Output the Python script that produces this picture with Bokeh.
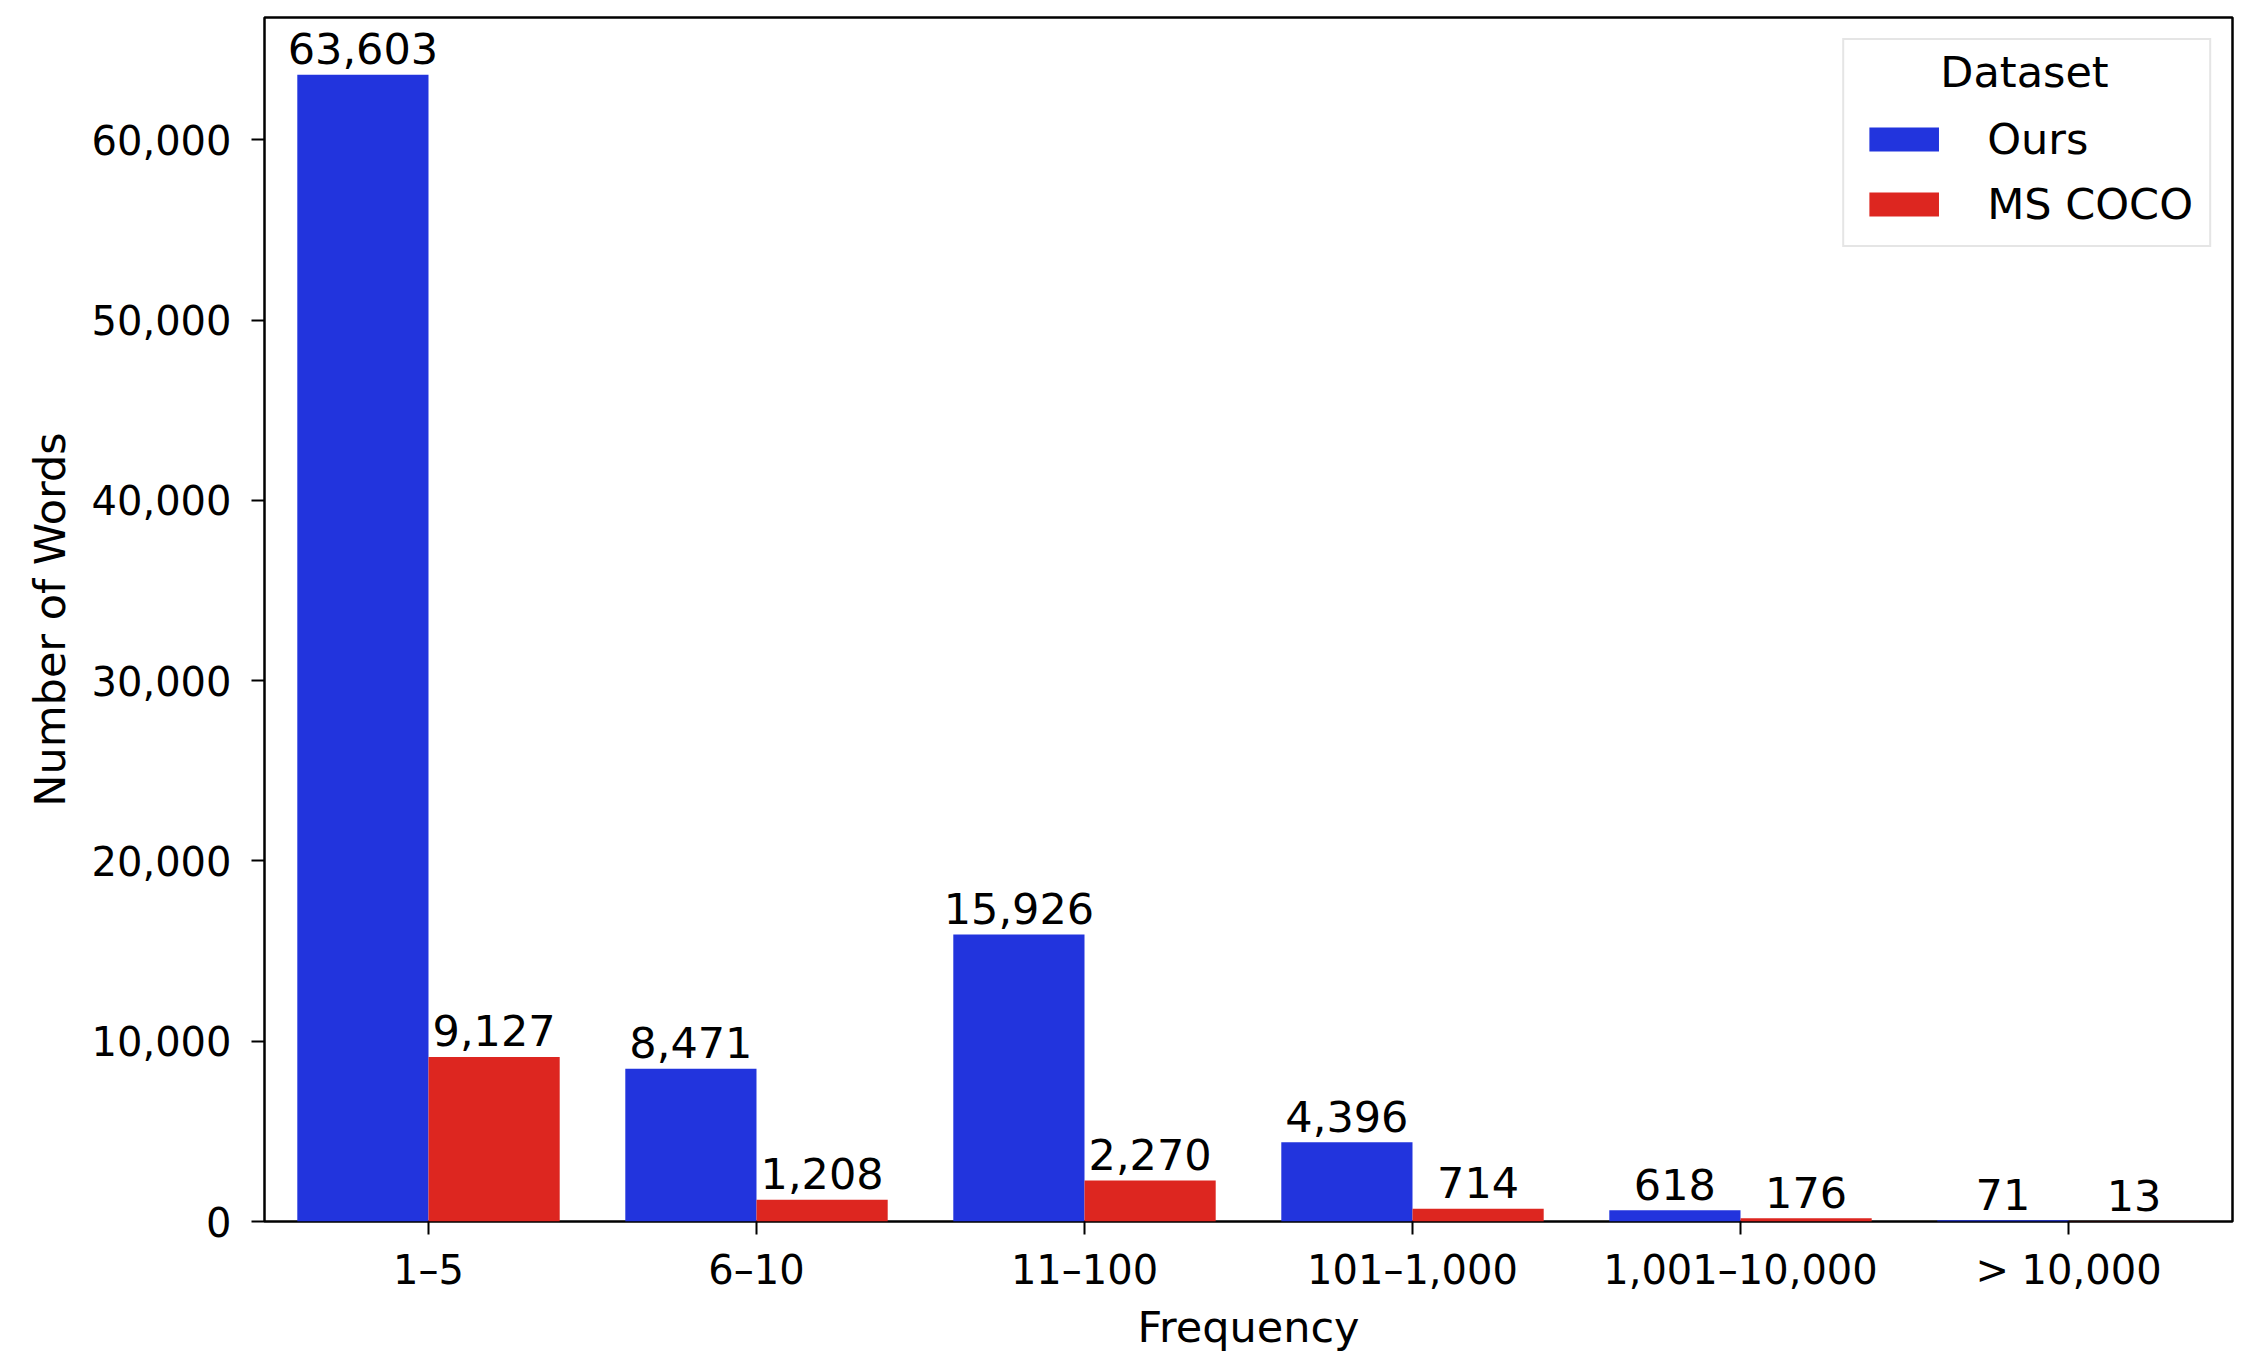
from bokeh.plotting import figure
from bokeh.models import (ColumnDataSource, FactorRange, Range1d, NumeralTickFormatter,
                          FixedTicker, Legend, LegendItem, Label)
from bokeh.transform import dodge
from bokeh.embed import file_html
from bokeh.resources import INLINE
from bokeh.core.properties import value

# ---- data ----
categories = ["1–5", "6–10", "11–100", "101–1,000", "1,001–10,000", "> 10,000"]
ours = [63603, 8471, 15926, 4396, 618, 71]
mscoco = [9127, 1208, 2270, 714, 176, 13]
y_ticks = [0, 10000, 20000, 30000, 40000, 50000, 60000]
series_names = ["Ours", "MS COCO"]
legend_title = "Dataset"

BLUE = "#2234dd"
RED = "#dd2620"
FONT = "DejaVu Sans"
FS = "43px"
TICK_FS = "40px"

src = ColumnDataSource(dict(
    cat=categories,
    ours=ours,
    coco=mscoco,
    ours_lbl=[f"{v:,}" for v in ours],
    coco_lbl=[f"{v:,}" for v in mscoco],
))

p = figure(
    x_range=FactorRange(*categories),
    y_range=Range1d(0, max(ours) * 1.05),
    width=2255, height=1370,
    output_backend="svg", toolbar_location=None,
    min_border_left=264, min_border_right=23,
    min_border_top=17, min_border_bottom=149,
    background_fill_color="white", border_fill_color="white",
)

r1 = p.vbar(x=dodge("cat", -0.2, range=p.x_range), top="ours", width=0.4,
            source=src, fill_color=BLUE, line_color=None)
r2 = p.vbar(x=dodge("cat", 0.2, range=p.x_range), top="coco", width=0.4,
            source=src, fill_color=RED, line_color=None)

p.text(x=dodge("cat", -0.2, range=p.x_range), y="ours", text="ours_lbl", source=src,
       text_align="center", text_baseline="alphabetic", y_offset=-26,
       text_font=value(FONT), text_font_size=FS, text_color="black")
p.text(x=dodge("cat", 0.2, range=p.x_range), y="coco", text="coco_lbl", source=src,
       text_align="center", text_baseline="alphabetic", y_offset=-26,
       text_font=value(FONT), text_font_size=FS, text_color="black")

# grids / outline
p.xgrid.grid_line_color = None
p.ygrid.grid_line_color = None
p.outline_line_color = "black"
p.outline_line_width = 2.5
p.outline_line_alpha = 1.0

# axes
p.yaxis.ticker = FixedTicker(ticks=y_ticks)
p.yaxis.formatter = NumeralTickFormatter(format="0,0")
p.xaxis.axis_label = "Frequency"
p.yaxis.axis_label = "Number of Words"
for ax in (p.xaxis, p.yaxis):
    ax.axis_line_color = None
    ax.major_tick_line_color = "black"
    ax.major_tick_line_width = 2
    ax.major_tick_out = 13
    ax.major_tick_in = 0
    ax.minor_tick_line_color = None
    ax.major_label_text_font = FONT
    ax.major_label_text_font_size = TICK_FS
    ax.major_label_text_color = "black"
    ax.axis_label_text_font = FONT
    ax.axis_label_text_font_size = FS
    ax.axis_label_text_font_style = "normal"
    ax.axis_label_text_color = "black"
p.yaxis.major_label_standoff = 20
p.yaxis.axis_label_standoff = 14
p.xaxis.major_label_standoff = 12
p.xaxis.axis_label_standoff = 6

# legend (title kept for layout, drawn invisibly; centred title drawn as a Label)
legend = Legend(
    items=[LegendItem(label=series_names[0], renderers=[r1]),
           LegendItem(label=series_names[1], renderers=[r2])],
    title=legend_title,
    location="top_right",
    margin=21, padding=16, spacing=15,
    glyph_width=87, glyph_height=30, label_standoff=40,
    label_text_font=FONT, label_text_font_size=FS, label_text_color="black",
    title_text_font=FONT, title_text_font_size=FS, title_text_font_style="normal",
    title_text_color="black", title_text_alpha=0.0, title_standoff=8,
    border_line_color="#cccccc", border_line_width=2,
    background_fill_color="white", background_fill_alpha=0.0,
)
p.add_layout(legend)

title_lbl = Label(x=1760, y=1150, x_units="screen", y_units="screen", text=legend_title,
                  text_align="center", text_baseline="middle",
                  text_font=FONT, text_font_size=FS, text_color="black",
                  level="overlay")
p.add_layout(title_lbl)

open("out.html", "w").write(file_html(p, INLINE))
